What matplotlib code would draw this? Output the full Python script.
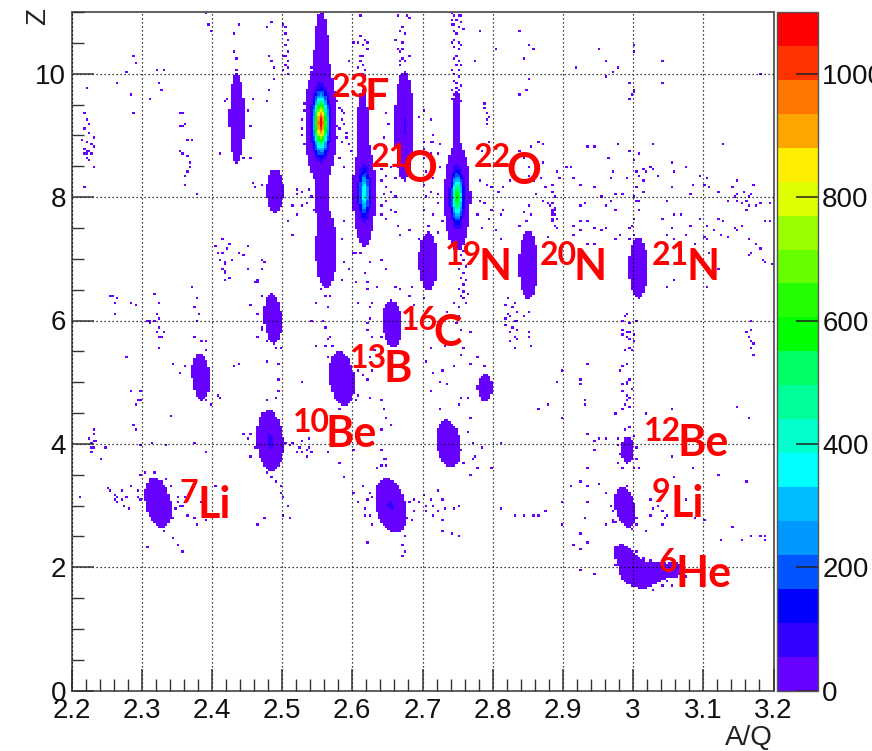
import numpy as np
import matplotlib
matplotlib.use("Agg")
import matplotlib.pyplot as plt
from matplotlib.colors import ListedColormap, BoundaryNorm
from matplotlib.ticker import MultipleLocator, FixedLocator
from matplotlib.colorbar import ColorbarBase

W, H = 872, 751
plt.rcParams['font.family'] = ['Liberation Sans', 'DejaVu Sans']

# ---- isotope peaks
blob_aq   = [2.555, 2.556, 2.557, 2.617, 2.615, 2.674, 2.7495, 2.749, 2.4355, 2.490, 2.5628, 2.708, 2.851, 3.0075,
             2.487, 2.657, 2.384, 2.585, 2.483, 2.737, 2.3237, 2.655, 2.992, 2.989, 2.993, 3.008, 3.035, 3.058, 2.789]
blob_z    = [9.20, 9.60, 7.90, 8.06, 9.20, 9.15, 8.00, 9.25, 9.28, 8.10, 7.15, 6.96, 6.90, 6.85,
             6.03, 5.95, 5.09, 5.06, 4.05, 4.00, 3.05, 3.00, 3.90, 2.97, 2.10, 1.90, 1.93, 1.96, 4.91]
blob_sx   = [.0062, .0058, .0048, .0047, .0042, .0047, .0053, .0036, .0041, .0047, .0058, .0050, .0048, .0052,
             .0050, .0054, .0050, .0066, .0066, .0066, .0066, .0076, .0055, .0056, .0070, .0100, .0085, .0065, .0060]
blob_sz   = [.265, .65, .22, .25, .30, .31, .243, .28, .28, .135, .24, .175, .20, .19,
             .16, .145, .15, .16, .17, .145, .145, .155, .13, .125, .11, .09, .08, .08, .12]
blob_tilt = [0, 0, 0, 0, 0, 0, 0, 0, 0, 0, 0, 0, 0, 0,
             -.005, -.004, -.006, -.008, -.006, -.010, -.015, -.015, 0, -.015, -.04, -.02, 0, 0, 0]
blob_peak = [1090, 12, 6, 400, 5, 62, 600, 4, 30, 30, 30, 40, 50, 30,
             25, 30, 25, 40, 70, 35, 50, 62, 4, 30, 20, 35, 6, 4, 5]

# ---- isolated filled cells (A/Q, Z)
stray = [
 (2.217,9.36),(2.222,9.25),(2.224,9.19),(2.219,9.10),(2.226,9.03),(2.231,8.98),(2.216,8.92),(2.222,8.90),(2.228,8.87),(2.233,8.82),
 (2.219,8.78),(2.222,8.75),(2.225,8.75),(2.219,8.72),(2.222,8.71),(2.229,8.71),(2.220,8.62),(2.225,8.60),(2.230,8.50),(2.217,8.17),(2.221,9.79),
 (2.288,10.30),(2.290,10.19),(2.277,10.03),(2.266,9.86),(2.284,9.67),(2.288,9.35),(2.311,9.57),(2.323,10.07),(2.333,10.07),(2.325,9.86),(2.328,9.72),
 (2.355,9.38),(2.360,9.35),(2.356,9.15),(2.361,9.19),(2.360,9.14),(2.366,8.93),(2.373,8.93),(2.356,8.76),(2.360,8.70),(2.365,8.66),(2.368,8.56),
 (2.368,8.50),(2.364,8.40),(2.361,8.35),(2.363,8.20),(2.378,8.06),
 (2.503,10.80),(2.505,10.75),(2.506,10.65),(2.507,10.55),(2.506,10.45),(2.507,10.35),(2.505,10.30),(2.507,10.20),(2.503,10.30),(2.506,10.15),
 (2.503,10.05),(2.508,10.10),(2.510,10.00),(2.485,10.85),(2.480,10.75),(2.482,10.30),(2.485,10.20),(2.487,10.10),(2.488,9.90),(2.482,9.75),(2.480,9.55),
 (2.393,10.98),(2.396,10.78),(2.400,10.70),(2.430,10.65),(2.440,10.80),(2.432,10.35),(2.435,10.25),(2.434,10.05),(2.433,9.93),(2.421,9.60),(2.420,9.55),
 (2.458,9.60),(2.452,9.40),(2.455,9.15),(2.445,8.65),(2.455,8.64),(2.411,8.70),(2.459,8.22),(2.461,8.14),(2.470,8.20),
 (2.523,8.13),(2.530,8.10),(2.538,8.13),(2.540,8.02),(2.522,8.05),(2.528,7.85),(2.535,7.90),(2.545,7.80),(2.522,7.70),(2.510,7.60),(2.515,7.85),(2.515,7.40),
 (2.577,9.55),(2.580,9.45),(2.584,9.42),(2.588,9.38),(2.575,9.30),(2.585,9.25),(2.590,9.20),(2.578,9.15),(2.582,9.10),(2.592,9.05),(2.578,8.98),
 (2.586,8.90),(2.596,8.85),(2.575,8.70),(2.581,8.62),(2.590,8.50),(2.598,8.75),(2.593,8.95),(2.600,10.50),(2.595,10.22),
 (2.527,9.10),(2.530,9.25),(2.533,9.40),(2.535,9.60),(2.528,9.00),(2.532,8.85),(2.536,8.70),(2.540,8.45),(2.534,9.75),(2.531,9.50),(2.573,9.90),(2.570,10.05),(2.542,10.10),(2.544,10.30),
 (2.612,10.95),(2.612,10.62),(2.617,10.55),(2.620,10.50),(2.610,10.50),(2.614,10.45),(2.620,10.40),(2.614,10.30),(2.613,10.28),(2.611,10.20),
 (2.615,10.15),(2.610,10.10),(2.617,10.05),(2.616,10.00),(2.612,9.98),(2.618,9.95),
 (2.665,10.95),(2.678,10.95),(2.680,10.90),(2.672,10.75),(2.670,10.70),(2.675,10.65),(2.660,10.55),(2.672,10.50),(2.665,10.40),(2.672,10.38),(2.668,10.35),
 (2.680,10.30),(2.672,10.25),(2.668,10.20),(2.674,10.22),(2.670,10.15),(2.650,9.35),(2.652,9.20),(2.695,9.30),(2.660,8.30),(2.645,8.95),(2.655,8.50),
 (2.640,8.45),(2.650,8.35),(2.642,8.25),(2.648,8.15),(2.655,8.10),(2.645,8.05),(2.660,8.00),(2.650,7.95),(2.640,7.85),(2.655,7.80),(2.660,7.75),(2.640,7.70),(2.650,7.65),(2.665,7.55),(2.670,7.40),
 (2.700,9.40),(2.710,9.25),(2.700,8.90),(2.715,9.00),(2.700,8.78),(2.710,8.90),(2.716,8.90),(2.725,8.85),(2.720,8.70),(2.702,8.63),(2.710,8.70),(2.726,8.50),
 (2.705,8.40),(2.715,8.30),(2.700,8.20),(2.712,8.10),(2.722,8.05),(2.705,8.00),(2.720,7.90),(2.700,7.80),(2.715,7.70),(2.728,7.60),(2.708,7.55),(2.720,7.42),
 # column above and below the 2.75 peak
 (2.742,10.97),(2.746,10.96),(2.752,10.95),(2.756,10.93),(2.743,10.88),(2.748,10.86),(2.754,10.85),(2.741,10.78),(2.745,10.78),(2.751,10.75),(2.757,10.72),(2.744,10.68),(2.749,10.65),
 (2.746,10.55),(2.742,10.50),(2.750,10.52),(2.754,10.48),(2.745,10.42),(2.751,10.38),(2.748,10.30),(2.744,10.25),(2.752,10.22),(2.747,10.15),(2.755,10.15),(2.743,10.08),(2.750,10.05),
 (2.746,9.98),(2.752,9.95),(2.744,9.88),(2.749,9.85),(2.755,9.82),(2.747,9.78),(2.742,9.72),(2.752,9.72),(2.746,9.65),(2.750,9.62),(2.740,9.58),(2.756,9.55),
 (2.758,7.12),(2.754,7.05),(2.760,7.00),(2.756,6.92),(2.763,6.88),(2.752,6.84),(2.758,6.78),(2.755,6.70),(2.762,6.65),(2.757,6.58),(2.752,6.52),(2.760,6.48),(2.764,6.44),(2.755,6.40),(2.759,6.35),(2.763,6.30),
 (2.775,10.20),(2.790,9.19),(2.788,9.45),(2.787,9.50),(2.793,9.38),(2.795,9.30),(2.790,9.25),(2.782,10.68),
 (2.805,10.40),(2.840,10.67),(2.853,10.48),(2.858,10.40),(2.845,10.25),(2.850,9.90),(2.838,9.65),(2.849,9.75),
 (2.795,8.90),(2.784,8.75),(2.782,8.25),(2.790,8.18),(2.800,8.15),(2.815,8.15),(2.808,8.10),(2.782,7.95),(2.788,7.90),(2.800,7.80),(2.780,7.70),(2.795,7.65),
 (2.815,7.80),(2.812,7.70),(2.785,7.50),(2.805,7.45),(2.812,7.30),(2.828,8.55),(2.837,8.75),(2.845,8.65),(2.855,8.80),(2.865,8.90),(2.872,8.85),(2.850,8.50),
 (2.860,8.60),(2.870,8.55),(2.825,8.25),(2.850,8.35),(2.858,8.25),(2.868,8.30),(2.875,8.15),(2.862,8.05),(2.873,7.95),(2.850,7.85),(2.845,7.75),(2.855,7.72),
 (2.849,7.62),(2.840,7.55),(2.890,8.40),(2.886,8.20),(2.884,8.10),(2.887,8.00),(2.885,7.90),(2.883,7.85),(2.886,7.80),(2.889,7.78),(2.884,7.72),(2.887,7.70),
 (2.890,7.64),(2.884,7.60),(2.888,7.52),(2.892,7.48),(2.880,7.90),(2.895,8.30),(2.878,7.35),(2.884,7.80),(2.886,7.76),(2.888,7.84),(2.885,7.66),(2.889,7.70),
 (2.905,8.50),(2.912,8.50),(2.935,8.82),(2.945,8.82),(2.915,8.32),(2.925,8.20),(2.930,7.90),(2.925,7.85),(2.945,8.15),(2.965,8.65),(2.968,8.32),(2.970,8.40),
 (2.955,8.00),(2.975,8.05),(2.968,7.95),(2.960,7.85),(2.975,7.80),(2.925,7.60),(2.915,7.55),(2.935,7.60),(2.945,7.50),(2.915,7.40),(2.925,7.45),(2.935,7.25),
 (2.945,7.25),(2.955,7.45),(2.960,7.50),(2.975,7.30),(2.982,7.40),
 (2.995,9.60),(2.998,9.65),(3.040,9.85),(2.995,9.85),(3.000,9.75),(3.000,9.70),(2.950,10.40),(2.960,10.20),(2.972,10.02),(2.980,10.10),(2.920,10.10),(2.962,9.95),
 (2.980,8.85),(2.995,8.75),(3.010,8.70),(3.030,8.85),(3.000,8.60),(3.015,8.45),(3.025,8.50),(3.005,8.40),(3.010,8.35),(3.020,8.40),(3.030,8.45),(2.990,8.30),(3.015,8.25),(3.035,8.35),
 (3.005,8.15),(3.015,8.10),(3.000,8.00),(2.985,8.05),(3.010,7.95),(3.005,7.94),(3.010,7.80),(3.000,7.65),(2.998,7.55),(2.995,7.30),(3.000,7.40),(2.996,7.50),
 (3.055,8.55),(3.075,8.50),(3.060,8.40),(3.085,8.20),(3.095,8.35),(3.105,8.30),(3.100,8.20),(3.110,8.15),(3.055,8.15),(3.050,7.95),(3.080,8.05),(3.120,8.10),
 (3.040,7.65),(3.060,7.70),(3.055,7.50),(3.070,7.70),(3.080,7.55),(3.095,7.65),(3.105,7.55),(3.050,7.40),(3.060,7.30),(3.075,7.40),(3.090,7.25),(3.100,7.35),(3.105,7.30),
 (3.120,7.65),(3.130,7.60),(3.115,7.45),(3.125,7.40),(3.135,7.35),(3.145,7.50),(3.150,7.45),(3.110,7.10),(3.120,6.85),(3.060,6.65),(3.050,6.55),(3.105,6.55),(3.020,6.70),
 (3.140,8.15),(3.150,8.05),(3.135,7.95),(3.145,8.00),(3.150,7.95),(3.155,7.90),(3.160,7.95),(3.165,8.00),(3.158,8.10),(3.170,8.05),(3.165,7.85),(3.175,7.85),(3.160,7.80),(3.180,7.90),(3.172,8.20),(3.150,8.25),
 (3.165,7.30),(3.175,7.25),(3.180,7.15),(3.185,7.00),(3.190,6.95),(3.198,6.90),(3.195,7.90),(3.195,7.60),(3.165,7.05),(3.170,7.10),(3.190,7.60),(3.155,7.55),(3.180,9.98),(3.130,8.85),
 (3.040,10.20),(3.000,10.45),(3.000,10.35),
 # row Z about 6
 (2.822,6.35),(2.830,6.30),(2.820,6.25),(2.828,6.20),(2.835,6.15),(2.821,6.10),(2.826,6.05),(2.832,6.00),(2.836,5.98),(2.820,5.92),(2.828,5.90),(2.834,5.85),(2.824,5.80),(2.830,5.75),(2.835,5.70),(2.826,5.68),(2.830,5.55),
 (2.818,6.02),(2.845,6.05),(2.850,6.15),(2.852,5.80),(2.856,5.60),(2.850,5.72),
 (2.987,6.08),(2.992,6.10),(2.986,5.98),(2.994,5.95),(2.985,5.85),(2.990,5.82),(2.994,5.80),(2.986,5.76),(2.991,5.72),(2.996,5.70),(3.000,5.78),(3.005,5.98),(3.003,5.65),(2.997,5.50),(2.987,5.50),(2.995,5.55),
 (3.163,5.82),(3.170,5.85),(3.165,5.72),(3.168,5.68),(3.172,5.62),(3.170,5.55),(3.172,5.45),(3.168,6.00),
 (2.700,6.35),(2.735,6.15),(2.745,6.30),(2.752,6.22),(2.750,6.05),(2.748,5.95),(2.755,5.85),(2.750,5.70),(2.770,5.80),(2.760,5.55),(2.780,5.40),(2.710,5.55),(2.733,5.60),(2.754,5.45),
 (2.745,5.25),(2.770,5.30),(2.787,5.25),(2.730,5.20),(2.705,5.35),(2.715,5.15),(2.710,4.85),(2.735,4.95),(2.725,5.00),(2.765,4.75),(2.755,4.75),(2.725,4.55),(2.750,4.62),
 (2.770,4.40),(2.765,4.20),(2.745,4.00),(2.772,4.02),(2.785,3.95),(2.775,3.80),(2.772,3.75),(2.780,3.60),(2.770,3.50),(2.760,3.70),(2.800,3.60),(2.812,4.00),
 (2.935,5.30),(2.925,5.05),(2.890,5.00),(2.900,5.20),(2.925,4.95),(2.930,4.65),(2.930,4.70),(2.865,4.55),(2.880,4.62),(2.900,4.40),(2.935,4.15),(2.945,4.05),(2.950,4.10),
 (2.975,4.50),(2.985,4.55),(2.960,4.10),(2.945,3.92),(2.935,3.60),(2.925,3.40),(2.935,3.30),(2.950,3.35),(2.960,3.20),(2.910,3.30),(2.900,3.05),(2.935,3.05),
 (2.865,2.85),(2.875,2.90),(2.900,2.70),(2.960,2.70),(2.970,2.72),(2.930,2.80),(2.925,2.55),(2.915,2.35),(2.935,2.40),(2.925,2.28),(2.810,2.95),(2.830,2.85),(2.845,2.85),(2.860,2.85),
 (2.983,5.20),(2.986,5.25),(2.990,5.30),(2.995,5.05),(2.990,5.00),(2.986,4.95),(2.992,4.95),(2.997,4.90),(2.985,4.85),(2.990,4.80),(2.996,4.75),(2.992,4.70),(2.988,4.65),(2.996,4.60),
 (3.025,3.08),(3.035,3.00),(3.030,2.95),(3.040,2.90),(3.025,2.85),(3.045,2.80),(3.050,2.85),(3.075,3.10),(3.040,2.70),(3.020,2.60),(3.060,3.45),(3.090,2.80),(3.100,2.75),(3.140,2.65),
 (3.125,2.45),(3.155,2.45),(3.170,2.50),(3.190,2.52),(3.180,2.52),(3.190,2.45),(3.160,3.40),(3.120,3.50),(3.085,3.60),(3.055,3.80),(3.010,3.60),(3.020,4.50),(3.055,4.55),(3.150,4.60),(3.165,4.40),
 (2.740,2.55),(2.730,2.60),(2.750,2.50),(2.945,1.90),(2.925,1.95),
 (2.700,3.18),(2.695,3.05),(2.705,3.00),(2.715,3.00),(2.722,3.25),(2.712,3.10),(2.705,2.90),(2.715,2.85),(2.722,2.90),(2.730,2.75),(2.728,3.10),
 (2.745,2.95),(2.752,3.00),(2.732,2.95),
 # halo of the small peaks near Z 4 to 2
 (2.980,4.10),(2.978,3.98),(2.982,3.82),(2.979,3.70),(2.984,3.62),(3.003,4.12),(3.006,3.95),(3.005,3.75),(3.003,3.62),(2.995,4.28),(2.987,4.25),
 (2.968,3.00),(2.972,2.90),(2.970,2.78),(2.976,2.72),(2.980,3.22),(2.975,3.12),(3.002,2.90),(3.006,2.80),(3.004,2.70),(2.998,2.62),(2.990,3.33),
 (2.975,2.05),(2.978,2.20),(2.985,2.30),(2.995,2.30),(3.005,2.25),(3.015,2.15),(2.982,1.95),(2.990,1.82),(3.000,1.72),(3.012,1.66),(3.022,1.70),(3.030,1.62),(3.040,1.72),(3.048,1.78),(3.055,1.72),(3.070,1.75),
 (3.075,1.85),(3.025,2.10),(3.035,2.05),(3.045,2.08),(3.050,2.15),(3.030,1.80),(3.060,2.12),(3.065,2.05),(3.028,1.98),
 # near the Li and C peaks at Z about 3
 (2.253,3.27),(2.256,3.24),(2.262,3.18),(2.265,3.15),(2.261,3.08),(2.265,3.06),(2.285,3.32),(2.270,3.25),(2.270,3.10),(2.280,3.13),(2.276,2.97),(2.281,2.95),(2.212,3.14),
 (2.295,3.25),(2.295,3.14),(2.298,3.10),(2.342,3.30),(2.350,3.15),(2.352,3.05),(2.348,2.95),(2.356,2.97),(2.362,3.12),(2.360,3.00),(2.374,2.80),(2.380,2.70),(2.393,2.75),(2.365,2.85),(2.345,2.80),
 (2.340,2.75),(2.346,2.48),(2.351,2.37),(2.357,2.26),(2.308,2.33),(2.332,2.60),(2.335,3.20),(2.405,3.30),(2.385,3.05),
 (2.300,3.50),(2.306,3.55),(2.320,3.52),(2.335,3.42),
 (2.480,3.52),(2.485,3.45),(2.490,3.40),(2.497,3.30),(2.497,3.20),(2.500,3.15),(2.508,3.00),(2.500,2.85),(2.513,2.82),(2.465,2.68),(2.475,2.82),
 (2.590,3.45),(2.615,3.33),(2.600,3.20),(2.610,3.05),(2.618,2.95),(2.622,3.10),(2.625,3.20),(2.630,3.15),(2.625,2.85),(2.640,3.05),(2.638,2.80),(2.630,2.70),(2.618,2.85),(2.620,2.40),
 (2.677,2.80),(2.685,2.75),(2.690,2.90),(2.680,3.05),(2.688,3.10),(2.675,2.52),(2.672,2.35),(2.676,2.25),(2.673,2.18),(2.650,3.65),(2.648,3.75),
 (2.512,3.97),(2.504,4.00),(2.515,4.02),(2.520,3.85),(2.525,3.95),(2.530,4.05),(2.535,3.90),(2.530,3.85),(2.538,4.07),(2.540,3.85),(2.535,3.78),(2.537,3.95),(2.452,4.08),(2.455,4.15),(2.462,3.95),(2.465,4.05),(2.445,4.15),
 (2.456,3.80),(2.565,3.85),(2.580,3.70),(2.602,3.90),(2.640,3.90),(2.645,3.75),(2.640,3.65),(2.636,3.60),
 (2.230,4.25),(2.231,4.15),(2.225,4.08),(2.228,4.03),(2.232,4.05),(2.236,4.05),(2.228,3.95),(2.233,3.95),(2.228,3.85),(2.241,3.75),(2.247,3.95),(2.300,3.98),(2.316,4.00),(2.336,3.98),(2.375,4.03),(2.390,3.85),
 (2.287,4.30),(2.293,4.25),(2.295,4.70),(2.299,4.85),(2.293,4.65),(2.300,4.70),(2.343,4.45),(2.430,5.25),(2.440,5.30),
 (2.375,5.75),(2.385,5.67),(2.390,5.50),(2.363,5.25),(2.408,4.78),(2.410,4.75),(2.380,4.80),(2.392,4.70),(2.398,4.65),(2.392,5.67),
 (2.254,6.40),(2.258,6.40),(2.263,6.12),(2.264,6.35),(2.263,6.30),(2.285,6.30),(2.290,6.25),(2.320,6.42),(2.325,6.30),(2.321,6.10),(2.325,6.02),(2.318,5.98),(2.325,5.90),(2.322,5.80),(2.330,5.80),(2.325,5.75),(2.327,5.72),
 (2.313,6.00),(2.307,6.00),(2.311,5.95),(2.325,5.55),(2.280,5.40),(2.285,4.85),(2.345,5.30),(2.355,5.15),(2.383,6.10),(2.380,5.99),(2.380,6.35),(2.370,6.55),(2.375,6.20),
 (2.405,7.20),(2.408,7.10),(2.412,7.00),(2.415,7.30),(2.418,6.95),(2.416,7.10),(2.420,6.80),(2.428,7.00),(2.425,7.25),(2.419,6.90),(2.422,7.18),(2.418,6.75),(2.420,6.65),(2.424,6.70),(2.415,6.85),
 (2.444,7.07),(2.437,7.10),(2.450,7.20),(2.452,6.85),(2.470,6.85),(2.465,6.65),(2.470,7.00),(2.473,6.40),(2.465,6.62),(2.455,6.25),(2.465,5.75),(2.475,6.95),(2.460,6.60),
 (2.465,6.10),(2.470,5.90),(2.472,5.85),(2.480,5.65),(2.490,5.55),(2.498,5.55),(2.495,5.30),(2.480,5.35),(2.496,5.05),(2.490,4.75),(2.495,4.85),(2.480,4.70),(2.527,5.00),(2.549,5.60),(2.560,5.60),
 (2.540,6.00),(2.550,6.30),(2.555,6.50),(2.560,6.40),(2.570,6.40),(2.565,6.20),(2.558,6.00),(2.560,5.90),(2.570,5.75),(2.565,5.70),(2.573,5.60),(2.565,5.40),(2.575,5.35),(2.590,5.45),(2.610,5.20),(2.615,5.10),
 (2.620,5.05),(2.627,5.20),(2.610,4.80),(2.625,4.75),(2.640,4.70),(2.645,4.55),(2.650,4.40),(2.655,4.30),(2.640,4.25),(2.580,4.55),(2.605,4.70),(2.610,4.00),
 (2.620,6.50),(2.610,6.30),(2.625,6.20),(2.630,6.30),(2.625,6.02),(2.622,5.85),(2.630,5.75),(2.640,5.75),(2.632,5.50),(2.640,5.30),(2.625,5.40),(2.620,5.95),
 (2.620,7.30),(2.612,7.10),(2.625,6.95),(2.618,6.75),(2.623,6.60),(2.640,7.00),(2.650,6.85),(2.635,6.55),(2.668,6.50),(2.680,6.40),(2.690,6.25),(2.695,7.30),(2.680,7.45),(2.685,6.55),(2.660,6.55),
 (2.590,7.60),(2.585,7.30),(2.600,7.10),(2.595,6.85),(2.590,6.95),(2.585,6.65),(2.605,6.60),(2.605,7.10),
]

# ---- labels: (superscript, symbol, reference px of superscript left, baseline, symbol left, baseline)
lab_sup  = ['23', '21', '22', '19', '20', '21', '16', '13', '10', '12', '7', '9', '6']
lab_sym  = ['F', 'O', 'O', 'N', 'N', 'N', 'C', 'B', 'Be', 'Be', 'Li', 'Li', 'He']
lab_sx   = [332, 371, 474, 445, 540, 652, 401, 350, 293, 644, 179, 652, 659]
lab_sy   = [97, 167, 167, 265, 265, 265, 330, 368, 432, 441, 503, 502, 572]
lab_mx   = [364, 402, 506, 478, 573, 686, 433, 383, 325, 677, 197, 670, 675]
lab_my   = [110, 182, 184, 280, 280, 280, 346, 382, 447, 456, 518, 517, 587]

xticks = [2.2, 2.3, 2.4, 2.5, 2.6, 2.7, 2.8, 2.9, 3, 3.1, 3.2]
xticklabels = ['2.2', '2.3', '2.4', '2.5', '2.6', '2.7', '2.8', '2.9', '3', '3.1', '3.2']
yticks = [0, 2, 4, 6, 8, 10]
cb_ticks = [0, 200, 400, 600, 800, 1000]
band_colors = ['#6600ff', '#3300ff', '#0000ff', '#0055ff', '#0099ff', '#00bbff', '#00ffff', '#00ffcc', '#00ff99', '#00ff66',
               '#00ff00', '#22ff00', '#66ff00', '#99ff00', '#ddff00', '#ffee00', '#ffa500', '#ff7700', '#ff3300', '#ff0000']
zmax = 1100

# ---- histogram
nbins = 300
xe = np.linspace(2.2, 3.2, nbins + 1)
ye = np.linspace(0, 11, nbins + 1)
xc = 0.5 * (xe[:-1] + xe[1:])
yc = 0.5 * (ye[:-1] + ye[1:])
X, Y = np.meshgrid(xc, yc)
C = np.zeros_like(X)
for a, z, sx, sz, t, p in zip(blob_aq, blob_z, blob_sx, blob_sz, blob_tilt, blob_peak):
    C += p * np.exp(-0.5 * ((X - a - t * (Y - z)) / sx) ** 2 - 0.5 * ((Y - z) / sz) ** 2)
sa, sz_ = zip(*stray)
C += np.histogram2d(sz_, sa, bins=[ye, xe])[0]
C = np.ma.masked_less(C, 1)

levels = np.linspace(0, zmax, len(band_colors) + 1)
cmap = ListedColormap(band_colors)
norm = BoundaryNorm(levels, cmap.N)

fig = plt.figure(figsize=(W / 100, H / 100), dpi=100)
L, R, T, B = 71.5, 773.5, 12.0, 690.7
ax = fig.add_axes([L / W, 1 - B / H, (R - L) / W, (B - T) / H])
ax.pcolormesh(xe, ye, C, cmap=cmap, norm=norm, rasterized=True, zorder=1)
ax.set_xlim(2.2, 3.2)
ax.set_ylim(0, 11)
ax.xaxis.set_major_locator(FixedLocator(xticks))
ax.xaxis.set_minor_locator(MultipleLocator(0.02))
ax.yaxis.set_major_locator(FixedLocator(yticks))
ax.yaxis.set_minor_locator(MultipleLocator(0.5))
ax.set_xticklabels(xticklabels)
dark = '#333333'
ax.tick_params(which='major', direction='in', length=16, width=1.1, color=dark, labelsize=20, pad=5, labelcolor='#111111', top=False, right=False)
ax.tick_params(which='minor', direction='in', length=8.5, width=1.0, color=dark, top=False, right=False)
ax.tick_params(axis='y', which='major', pad=4)
ax.grid(True, which='major', color='black', ls=(0, (1, 2.2)), lw=0.9, zorder=2)
ax.set_axisbelow(False)
for s in ax.spines.values():
    s.set_color('#555555')
    s.set_linewidth(1.3)

fig.text(773 / W, 1 - 738 / H, 'A/Q', ha='right', va='center', fontsize=20, color='#222222')
fig.text(38 / W, 1 - 8 / H, 'Z', ha='center', va='top', rotation=90, fontsize=20, color='#222222')

# colour bar
cax = fig.add_axes([777 / W, 1 - B / H, 41 / W, (B - T) / H])
cb = ColorbarBase(cax, cmap=cmap, norm=norm, boundaries=levels, spacing='proportional', ticks=cb_ticks, drawedges=False)
cax.set_yticklabels([str(v) for v in cb_ticks])
cax.minorticks_off()
cax.tick_params(direction='in', length=16, width=1.1, color='#222222', labelsize=20, pad=3, labelcolor='#111111', right=True, left=False)
cb.outline.set_edgecolor('#555555')
cb.outline.set_linewidth(1.0)

# red labels
red = '#ff0000'
for sup, sym, sx, sy, mx, my in zip(lab_sup, lab_sym, lab_sx, lab_sy, lab_mx, lab_my):
    fig.text(sx / W, 1 - sy / H, sup, color=red, fontsize=23, fontweight='bold', family='Lato', ha='left', va='baseline', zorder=5)
    fig.text(mx / W, 1 - my / H, sym, color=red, fontsize=31, fontweight='bold', family='Lato', ha='left', va='baseline', zorder=5)

fig.savefig('out.png', dpi=100)
